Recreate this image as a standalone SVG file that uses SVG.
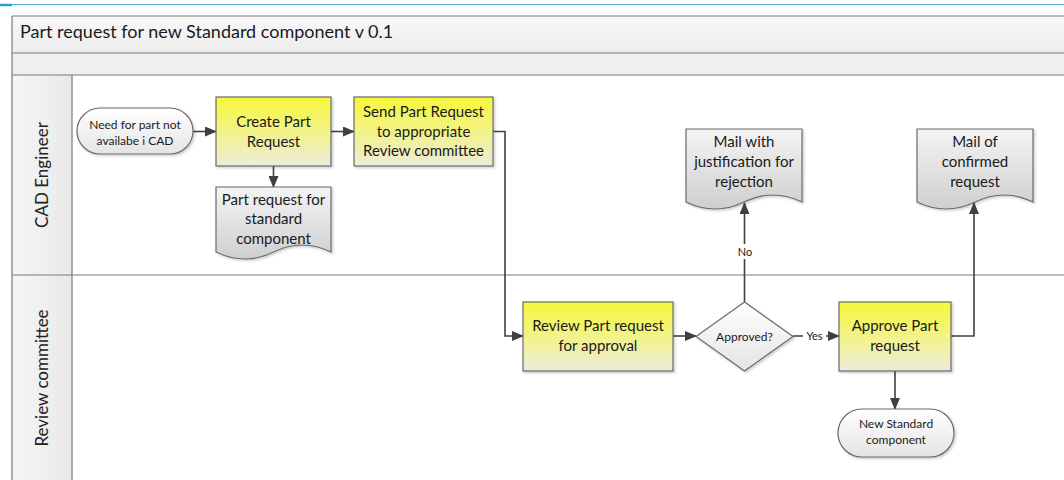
<svg xmlns="http://www.w3.org/2000/svg" width="1064" height="480" viewBox="0 0 1064 480">
  <defs>
    <linearGradient id="gProc" x1="0" y1="0" x2="0" y2="1">
      <stop offset="0" stop-color="#f7f73a"/>
      <stop offset="0.55" stop-color="#f2f290"/>
      <stop offset="1" stop-color="#ececdc"/>
    </linearGradient>
    <linearGradient id="gDoc" x1="0" y1="0" x2="0" y2="1">
      <stop offset="0" stop-color="#f4f4f4"/>
      <stop offset="1" stop-color="#cfcfcf"/>
    </linearGradient>
    <linearGradient id="gTerm" x1="0" y1="0" x2="0" y2="1">
      <stop offset="0" stop-color="#ffffff"/>
      <stop offset="1" stop-color="#e4e4e4"/>
    </linearGradient>
    <linearGradient id="gTitle" x1="0" y1="0" x2="0" y2="1">
      <stop offset="0" stop-color="#f8f8f8"/>
      <stop offset="1" stop-color="#ededed"/>
    </linearGradient>
    <linearGradient id="gHead" x1="0" y1="0" x2="1" y2="0">
      <stop offset="0" stop-color="#f6f6f6"/>
      <stop offset="1" stop-color="#e9e9e9"/>
    </linearGradient>
    <filter id="shadow" x="-10%" y="-10%" width="125%" height="130%">
      <feDropShadow dx="1.5" dy="1.5" stdDeviation="1" flood-color="#000" flood-opacity="0.2"/>
    </filter>
    <marker id="arrow" markerUnits="userSpaceOnUse" markerWidth="12" markerHeight="10" viewBox="0 0 12 10" refX="11" refY="5" orient="auto">
      <path d="M0,0 L12,5 L0,10 Z" fill="#404040"/>
    </marker>
  </defs>
  <style>
    .lane { stroke: #7a7a7a; stroke-width: 1.2; fill: none; }
    .proc { fill: url(#gProc); stroke: #6b6b6b; stroke-width: 1.2; filter: url(#shadow); }
    .doc { fill: url(#gDoc); stroke: #6b6b6b; stroke-width: 1.2; filter: url(#shadow); }
    .term { fill: url(#gTerm); stroke: #6b6b6b; stroke-width: 1.2; filter: url(#shadow); }
    .conn { stroke: #404040; stroke-width: 1.6; fill: none; marker-end: url(#arrow); }
    text { font-family: Lato, "Liberation Sans", sans-serif; fill: #1a1a1a; }
    .t15 { font-size: 15px; text-anchor: middle; }
    .t12 { font-size: 12px; text-anchor: middle; }
    .t11 { font-size: 11px; text-anchor: middle; }
    .laneLabel { font-size: 17px; text-anchor: middle; fill: #222; }
  </style>

  <!-- page background -->
  <rect x="0" y="0" width="1064" height="480" fill="#ffffff"/>

  <!-- top accent rule -->
  <line x1="12" y1="4.5" x2="1064" y2="4.5" stroke="#5ab4e0" stroke-width="1.2"/>
  <line x1="0" y1="5" x2="12" y2="5" stroke="#2a9fd6" stroke-width="2.5"/>

  <!-- pool frame -->
  <g id="pool">
    <rect x="12" y="16" width="1060" height="37" fill="url(#gTitle)"/>
    <rect x="12" y="53" width="1060" height="22" fill="#efefef"/>
    <rect x="12" y="75" width="60" height="405" fill="url(#gHead)"/>
    <line class="lane" x1="12" y1="16" x2="1064" y2="16"/>
    <line class="lane" x1="12" y1="16" x2="12" y2="480"/>
    <line class="lane" x1="12" y1="53" x2="1064" y2="53"/>
    <line class="lane" x1="12" y1="75" x2="1064" y2="75"/>
    <line class="lane" x1="12" y1="275" x2="1064" y2="275"/>
    <line class="lane" x1="72" y1="75" x2="72" y2="480"/>
    <text x="20" y="38" font-size="18">Part request for new Standard component v 0.1</text>
  </g>

  <!-- lane headers -->
  <g id="lane-cad">
    <text class="laneLabel" transform="translate(48,175) rotate(-90)">CAD Engineer</text>
  </g>
  <g id="lane-review">
    <text class="laneLabel" transform="translate(48,378) rotate(-90)" font-size="18">Review committee</text>
  </g>

  <!-- connectors -->
  <g id="connectors">
    <path class="conn" d="M193,131.5 H216"/>
    <path class="conn" d="M331,131.5 H354"/>
    <path class="conn" d="M273.5,166 V187"/>
    <path class="conn" d="M493,131.5 H505 V336 H523"/>
    <path class="conn" d="M673,336 H696"/>
    <path class="conn" d="M744.5,302 V203"/>
    <path class="conn" d="M793,336 H839"/>
    <path class="conn" d="M951,336 H974 V203"/>
    <path class="conn" d="M895,371 V409"/>
    <rect x="735" y="244" width="20" height="15" fill="#ffffff"/>
    <text class="t11" x="745" y="256">No</text>
    <rect x="803" y="329" width="23" height="14" fill="#ffffff"/>
    <text class="t11" x="814.5" y="340">Yes</text>
  </g>

  <!-- nodes -->
  <g id="start">
    <rect class="term" x="77" y="108" width="116" height="46" rx="23" ry="23"/>
    <text class="t12" x="135" y="129">Need for part not</text>
    <text class="t12" x="135" y="145">availabe i CAD</text>
  </g>

  <g id="create-request">
    <rect class="proc" x="216" y="97" width="115" height="69"/>
    <text class="t15" x="273.5" y="127">Create Part</text>
    <text class="t15" x="273.5" y="147">Request</text>
  </g>

  <g id="send-request">
    <rect class="proc" x="354" y="97" width="139" height="69"/>
    <text class="t15" x="423.5" y="117">Send Part Request</text>
    <text class="t15" x="423.5" y="137">to appropriate</text>
    <text class="t15" x="423.5" y="156">Review committee</text>
  </g>

  <g id="doc-request">
    <path class="doc" d="M216,187 H331 V252 Q302,238 273.5,252 Q245,266 216,252 Z"/>
    <text class="t15" x="273.5" y="205">Part request for</text>
    <text class="t15" x="273.5" y="224">standard</text>
    <text class="t15" x="273.5" y="244">component</text>
  </g>

  <g id="doc-rejection">
    <path class="doc" d="M686,129 H802 V202 Q773,188 744,202 Q715,216 686,202 Z"/>
    <text class="t15" x="744" y="147">Mail with</text>
    <text class="t15" x="744" y="167">justification for</text>
    <text class="t15" x="744" y="187">rejection</text>
  </g>

  <g id="doc-confirmed">
    <path class="doc" d="M917,129 H1033 V202 Q1004,188 975,202 Q946,216 917,202 Z"/>
    <text class="t15" x="975" y="147">Mail of</text>
    <text class="t15" x="975" y="167">confirmed</text>
    <text class="t15" x="975" y="187">request</text>
  </g>

  <g id="review-request">
    <rect class="proc" x="523" y="302" width="150" height="69"/>
    <text class="t15" x="598" y="331">Review Part request</text>
    <text class="t15" x="598" y="351">for approval</text>
  </g>

  <g id="decision">
    <path class="term" d="M744.5,302 L793,336.5 L744.5,371 L696,336.5 Z"/>
    <text class="t12" x="744.5" y="341">Approved?</text>
  </g>

  <g id="approve-request">
    <rect class="proc" x="839" y="302" width="112" height="69"/>
    <text class="t15" x="895" y="331">Approve Part</text>
    <text class="t15" x="895" y="351">request</text>
  </g>

  <g id="end">
    <rect class="term" x="838" y="409" width="116" height="48" rx="24" ry="24"/>
    <text class="t12" x="896" y="428">New Standard</text>
    <text class="t12" x="896" y="444">component</text>
  </g>
</svg>
